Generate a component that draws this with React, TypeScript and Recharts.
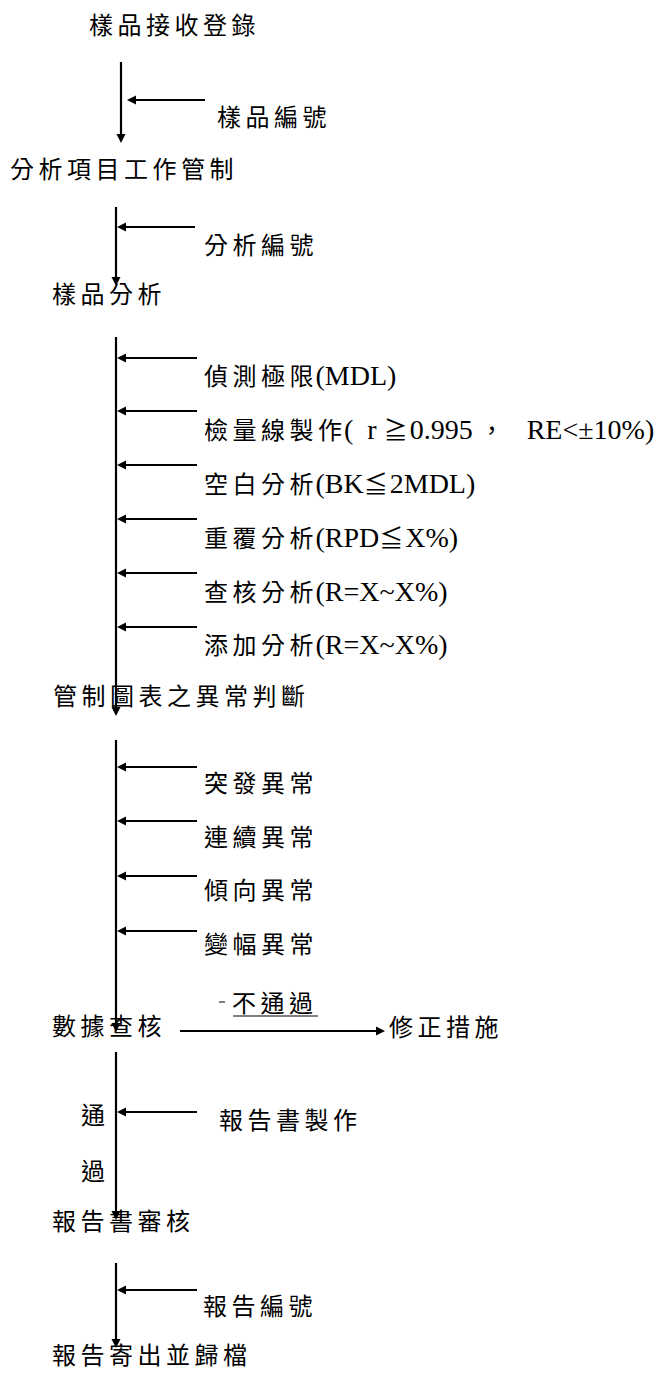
import React from 'react';
import { ScatterChart, Scatter, XAxis, YAxis, ReferenceLine } from 'recharts';

// Flow-chart layout expressed in position units (x: 0-665, y: 0-1376 from top)
const stepLabels = ['樣品接收登錄', '分析項目工作管制', '樣品分析', '管制圖表之異常判斷', '數據查核', '報告書審核', '報告寄出並歸檔'];
const stepX = [89, 10, 52, 53, 52, 52, 52];
const stepY = [25, 169, 294, 696, 1026, 1221, 1355];

const inputLabels = [
  '樣品編號', '分析編號',
  '偵測極限(MDL)', '檢量線製作(  r ≧0.995 ，   RE<±10%)', '空白分析(BK≦2MDL)', '重覆分析(RPD≦X%)', '查核分析(R=X~X%)', '添加分析(R=X~X%)',
  '突發異常', '連續異常', '傾向異常', '變幅異常',
  '報告書製作', '報告編號',
];
const inputLabelX = [217, 204, 204, 204, 204, 204, 204, 204, 204, 204, 204, 204, 219, 203];
const inputLabelY = [117, 245, 376, 430, 484, 538, 592, 645, 783, 837, 890, 944, 1120, 1306];
const inputArrowY = [100, 227, 358, 411, 465, 519, 573, 627, 767, 821, 876, 931, 1112, 1290];
const inputArrowFrom = [205, 195, 197, 197, 197, 197, 197, 197, 197, 197, 197, 197, 197, 197];
const inputArrowTo = [127, 117, 117, 117, 117, 117, 117, 117, 117, 117, 117, 117, 117, 117];

const trunkX = [121, 116, 116, 116, 116, 116];
const trunkTop = [62, 207, 337, 740, 1052, 1263];
const trunkTip = [143, 286, 716, 1032, 1220, 1348];

const branchLabels = ['修正措施', '不通過', '通', '過'];
const branchX = [389, 232, 81, 81];
const branchY = [1027, 1003, 1115, 1171];
const rejectArrow = { from: 180, to: 385, y: 1031 };
const rejectUnderline = { from: 233, to: 318, y: 1016 };
const rejectDash = { from: 219, to: 225, y: 1002 };

const CJK_FONT = "'Noto Sans CJK TC', 'Noto Sans CJK SC', sans-serif";
const LATIN_FONT = "'Liberation Serif', 'DejaVu Serif', serif";
const CJK_SIZE = 24;
const CJK_SPACING = 4.5;
const LATIN_SIZE = 28;

const isCJK = (ch: string) => /[\u3000-\u9fff\uff00-\uffef\u2266\u2267]/.test(ch);

function splitRuns(text: string) {
  const runs: { cjk: boolean; text: string }[] = [];
  for (const ch of Array.from(text)) {
    const c = isCJK(ch);
    if (runs.length && runs[runs.length - 1].cjk === c) runs[runs.length - 1].text += ch;
    else runs.push({ cjk: c, text: ch });
  }
  return runs;
}

const TextShape = (props: any) => {
  const { cx, cy, payload } = props;
  if (cx == null || cy == null) return null;
  const runs = splitRuns(payload.label);
  return (
    <text x={cx} y={cy + 9} fill="#000" style={{ whiteSpace: 'pre' }}>
      {runs.map((r, i) => (
        <tspan
          key={i}
          dx={!r.cjk && i > 0 ? -2.5 : 0}
          fontFamily={r.cjk ? CJK_FONT : LATIN_FONT}
          fontSize={r.cjk ? CJK_SIZE : LATIN_SIZE}
          letterSpacing={r.cjk ? CJK_SPACING : 0}
        >
          {r.text}
        </tspan>
      ))}
    </text>
  );
};

const arrowShape = (props: any) => {
  const { x1, y1, x2, y2 } = props;
  const dx = x2 - x1;
  const dy = y2 - y1;
  const len = Math.hypot(dx, dy) || 1;
  const ux = dx / len;
  const uy = dy / len;
  const L = 9;
  const W = 4.5;
  const bx = x2 - ux * L;
  const by = y2 - uy * L;
  const px = -uy;
  const py = ux;
  return (
    <g>
      <line x1={x1} y1={y1} x2={bx} y2={by} stroke="#000" strokeWidth={2.2} />
      <polygon points={`${x2},${y2} ${bx + px * W},${by + py * W} ${bx - px * W},${by - py * W}`} fill="#000" />
    </g>
  );
};

const thinShape = (props: any) => {
  const { x1, y1, x2, y2 } = props;
  return <line x1={x1} y1={y1} x2={x2} y2={y2} stroke="#000" strokeWidth={1} />;
};

const stepData = stepLabels.map((label, i) => ({ x: stepX[i], y: stepY[i], label }));
const inputData = inputLabels.map((label, i) => ({ x: inputLabelX[i], y: inputLabelY[i], label }));
const branchData = branchLabels.map((label, i) => ({ x: branchX[i], y: branchY[i], label }));

export default function App() {
  return (
    <div style={{ position: 'absolute', left: 0, top: 0, background: '#fff' }}>
      <ScatterChart width={665} height={1376} margin={{ top: 0, right: 0, bottom: 0, left: 0 }}>
        <XAxis type="number" dataKey="x" domain={[0, 665]} hide />
        <YAxis type="number" dataKey="y" domain={[0, 1376]} reversed hide />
        {trunkX.map((x, i) => (
          <ReferenceLine
            key={`t${i}`}
            segment={[{ x, y: trunkTop[i] }, { x, y: trunkTip[i] }]}
            shape={arrowShape}
            ifOverflow="visible"
          />
        ))}
        {inputArrowY.map((y, i) => (
          <ReferenceLine
            key={`a${i}`}
            segment={[{ x: inputArrowFrom[i], y }, { x: inputArrowTo[i], y }]}
            shape={arrowShape}
            ifOverflow="visible"
          />
        ))}
        <ReferenceLine
          segment={[{ x: rejectArrow.from, y: rejectArrow.y }, { x: rejectArrow.to, y: rejectArrow.y }]}
          shape={arrowShape}
          ifOverflow="visible"
        />
        <ReferenceLine
          segment={[{ x: rejectUnderline.from, y: rejectUnderline.y }, { x: rejectUnderline.to, y: rejectUnderline.y }]}
          shape={thinShape}
          ifOverflow="visible"
        />
        <ReferenceLine
          segment={[{ x: rejectDash.from, y: rejectDash.y }, { x: rejectDash.to, y: rejectDash.y }]}
          shape={thinShape}
          ifOverflow="visible"
        />
        <Scatter data={stepData} shape={TextShape} isAnimationActive={false} />
        <Scatter data={inputData} shape={TextShape} isAnimationActive={false} />
        <Scatter data={branchData} shape={TextShape} isAnimationActive={false} />
      </ScatterChart>
    </div>
  );
}
